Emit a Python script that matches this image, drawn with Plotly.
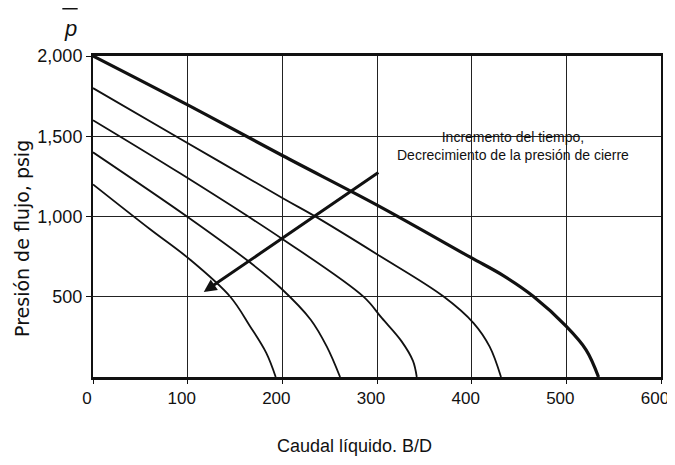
import plotly.graph_objects as go

# Caudal (B/D) and presión de flujo (psig)
q_2000 = [0, 100, 200, 303, 399, 433, 465, 500, 521, 534]
p_2000 = [2000, 1695, 1380, 1062, 745, 633, 503, 315, 168, 0]

q_1800 = [0, 92, 201, 236, 300, 370, 402, 419, 431]
p_1800 = [1800, 1485, 1112, 996, 765, 503, 336, 189, 0]

q_1600 = [0, 92, 200, 286, 305, 326, 338, 342]
p_1600 = [1600, 1269, 860, 499, 368, 222, 100, 0]

q_1400 = [0, 100, 166, 198, 230, 247, 261]
p_1400 = [1400, 997, 713, 556, 357, 189, 0]

q_1200 = [0, 60, 103, 145, 166, 183, 193]
p_1200 = [1200, 922, 729, 500, 315, 150, 0]

# arrow (tail -> head) in data units
arrow_q = [303, 117]
arrow_p = [1280, 530]

x_ticks = [0, 100, 200, 300, 400, 500, 600]
x_tick_text = ["0", "100", "200", "300", "400", "500", "600"]
y_ticks = [500, 1000, 1500, 2000]
y_tick_text = ["500", "1,000", "1,500", "2,000"]

series = [
    (q_2000, p_2000, 3.2),
    (q_1800, p_1800, 1.8),
    (q_1600, p_1600, 1.8),
    (q_1400, p_1400, 1.8),
    (q_1200, p_1200, 1.8),
]

fig = go.Figure()
for q, p, w in series:
    fig.add_trace(go.Scatter(
        x=q, y=p, mode="lines",
        line=dict(color="#111111", width=w, shape="spline", smoothing=1.0),
        showlegend=False, hoverinfo="skip",
    ))

sans = "Liberation Sans, Arial"

fig.add_annotation(
    x=arrow_q[1], y=arrow_p[1], ax=arrow_q[0], ay=arrow_p[0],
    xref="x", yref="y", axref="x", ayref="y",
    text="", showarrow=True, arrowhead=2, arrowsize=0.85,
    arrowwidth=3, arrowcolor="#111111",
)

# white box behind the label, covering the grid lines
fig.add_shape(
    type="rect", xref="paper", yref="paper",
    x0=0.518, x1=0.963, y0=0.573, y1=0.822,
    fillcolor="white", line=dict(width=0), layer="between",
)
fig.add_annotation(
    x=0.739, y=0.721, xref="paper", yref="paper",
    text="Incremento del tiempo,<br>Decrecimiento de la presión de cierre",
    showarrow=False, align="center", xanchor="center", yanchor="middle",
    font=dict(family=sans, size=14, color="#111111"),
)

fig.add_annotation(
    x=0.46, y=-0.215, xref="paper", yref="paper",
    text="Caudal líquido. B/D", showarrow=False,
    xanchor="center", yanchor="middle",
    font=dict(family=sans, size=18, color="#111111"),
)

fig.add_annotation(
    x=-0.125, y=0.43, xref="paper", yref="paper",
    text="Presión de flujo, psig", showarrow=False, textangle=-90,
    xanchor="center", yanchor="middle",
    font=dict(family="DejaVu Sans, Liberation Sans", size=19, color="#111111"),
)

fig.add_annotation(
    x=-0.04, y=1.085, xref="paper", yref="paper",
    text="<i>p</i>", showarrow=False,
    xanchor="center", yanchor="middle",
    font=dict(family=sans, size=22, color="#111111"),
)
fig.add_shape(
    type="line", xref="paper", yref="paper",
    x0=-0.054, x1=-0.027, y0=1.148, y1=1.148,
    line=dict(color="#111111", width=2),
)

# the page body adds an 8px offset, so the figure is sized to fit the window
fig.update_layout(
    width=667, height=457,
    margin=dict(l=85, r=14, t=48, b=88, autoexpand=False),
    paper_bgcolor="white", plot_bgcolor="white",
    font=dict(family=sans, color="#111111"),
)
fig.update_xaxes(
    range=[0, 600], tickvals=x_ticks, ticktext=x_tick_text,
    showgrid=True, gridcolor="#222222", gridwidth=1.3,
    showline=True, linecolor="#111111", linewidth=3, mirror=True,
    ticks="outside", ticklen=4, tickcolor="#111111",
    tickfont=dict(family=sans, size=17, color="#111111"),
    ticklabeloverflow="allow", ticklabelshift=-6,
    zeroline=False, automargin=False,
)
fig.update_yaxes(
    range=[0, 2000], tickvals=y_ticks, ticktext=y_tick_text,
    showgrid=True, gridcolor="#222222", gridwidth=1.3,
    showline=True, linecolor="#111111", linewidth=2, mirror=True,
    ticks="outside", ticklen=5, tickcolor="#111111",
    tickfont=dict(family=sans, size=18, color="#111111"),
    zeroline=False, automargin=False,
)

fig.write_html("out.html")
